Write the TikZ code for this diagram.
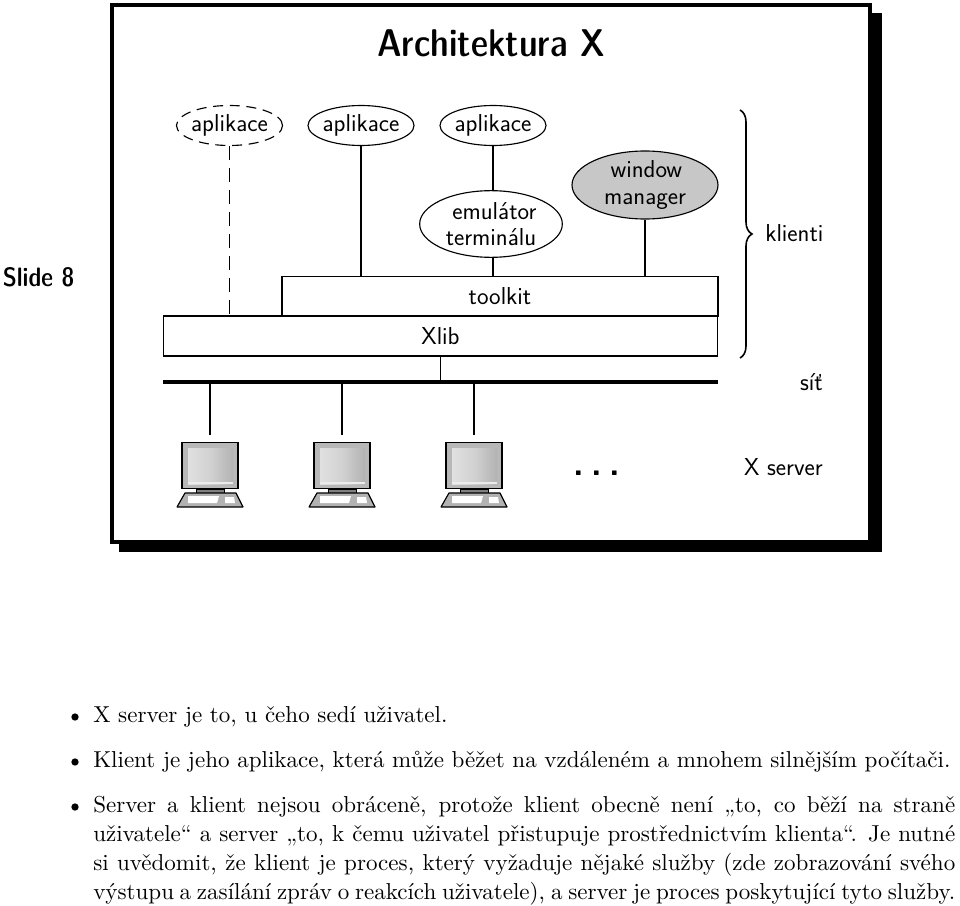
\documentclass[tikz,border=0pt]{standalone}
\usepackage{amsmath,amssymb,fontspec}
\usetikzlibrary{shapes.geometric,decorations.pathreplacing}
\newfontfamily\bodyfont{lmroman10-regular}[Extension=.otf]
\tikzset{
  appnode/.style={draw,ellipse,inner sep=-4pt,minimum width=79.5pt,minimum height=30pt,line width=.85pt},
  bignode/.style={draw,ellipse,inner sep=-4pt,minimum width=107pt,minimum height=50pt,align=center,line width=.85pt},
  layernode/.style={draw,rectangle,inner sep=0pt,line width=.85pt},
  linkline/.style={line width=.85pt},
  itemnode/.style={anchor=base west,inner sep=0pt,text width=646.5pt,align=justify,font=\fontsize{17.28}{21.75}\selectfont\bodyfont},
  bulletnode/.style={circle,fill=black,inner sep=0pt,minimum size=5.5pt},
  headnode/.style={font=\fontsize{#1}{30}\fontseries{sbc}\selectfont\sffamily},
  pc/.pic={
    \node[draw,rectangle,inner sep=0pt,minimum width=42pt,minimum height=35pt,fill=black!28,line width=.85pt] (-screen) at (0,-1.5) {};
    \shade[left color=black!12,right color=black!30,middle color=black!18] (-22,-19) rectangle (23,17);
    \fill[white!92!black] (-22,15) rectangle (23,17);
    \draw[fill=black!50,line width=.6pt] (-14,22) rectangle (14,26);
    \draw[fill=black!30,line width=.85pt,line join=round] (-25,26) -- (26,26) -- (33,40) -- (-33,40) -- cycle;
    \fill[white] (-22,29) -- (9,29) -- (7,36) -- (-22,36) -- cycle;
    \fill[white] (15,30) -- (24,30) -- (25,36) -- (15,36) -- cycle;
  }
}
\begin{document}
\begin{tikzpicture}[x=.75pt,y=-.75pt,every node/.style={font=\fontsize{18.4}{20}\selectfont\sffamily}]
\useasboundingbox (0,0) rectangle (960,906);
% frame
\fill (119,13) rectangle (882,552);
\draw[fill=white,line width=2.4pt] (112,5) rectangle (870,542);
\node[headnode=29] (title) at (491,43) {Architektura X};
\node[headnode=20] (slide) at (38.5,277) {Slide 8};
% clients
\node[appnode,dash pattern=on 7.5pt off 5pt] (app1) at (229.5,125.5) {aplikace};
\node[appnode] (app2) at (361,125.5) {aplikace};
\node[appnode] (app3) at (493,125.5) {aplikace};
\node[bignode] (term) at (491,224) {\hspace*{5pt}emulátor\\terminálu};
\node[bignode,minimum width=109.5pt,minimum height=51pt,fill=black!22] (wm) at (645,185) {\hspace*{2pt}window\\manager};
\node[layernode,minimum width=327pt,minimum height=30pt] (toolkit) at (500,296.5) {toolkit};
\node[layernode,minimum width=416pt,minimum height=30pt] (xlib) at (440.5,336) {Xlib};
\draw[linkline,dash pattern=on 10.5pt off 6pt] (app1.south) -- (app1.south |- xlib.north);
\draw[linkline] (app2.south) -- (app2.south |- toolkit.north);
\draw[linkline] (app3.south) -- (app3.south |- term.north);
\draw[linkline] (term.south -| app3.south) -- (app3.south |- toolkit.north);
\draw[linkline] (wm.south) -- (wm.south |- toolkit.north);
% network
\coordinate (busl) at (163,382);
\coordinate (busr) at (718,382);
\draw[line width=3pt] (busl) -- (busr);
\draw[linkline] (xlib.south) -- (xlib.south |- busl);
\pic (pca) at (210,467) {pc};
\pic (pcb) at (342,467) {pc};
\pic (pcc) at (474,467) {pc};
\foreach \i in {a,b,c} {
  \coordinate (top\i) at ([yshift=5.2pt]pc\i-screen.north);
  \draw[linkline] (top\i |- busl) -- (top\i);
}
\node[anchor=base,font=\fontsize{26}{30}\selectfont\sffamily\bfseries] (dots) at (597,475) {.\hspace{5.5pt}.\hspace{5.5pt}.};
\coordinate (bracea) at (740,110);
\coordinate (braceb) at (740,358);
\draw[decorate,decoration={brace,amplitude=9pt},line width=1.2pt] (bracea) -- (braceb);
\node[anchor=west,inner sep=0pt] (clients) at (765,233) {klienti};
\node[anchor=east,inner sep=0pt] (net) at (823,382) {síť};
\node[anchor=east,inner sep=0pt] (xserver) at (823,467) {X server};
% text
\node[itemnode] (ia) at (93,722) {X server je to, u čeho sedí uživatel.};
\node[itemnode] (ib) at (93,767) {Klient je jeho aplikace, která může běžet na vzdáleném a mnohem silnějším počítači.};
\node[itemnode] (ic) at (93,812) {Server a klient nejsou obráceně, protože klient obecně není „to, co běží na straně\linebreak uživatele“ a server „to, k čemu uživatel přistupuje prostřednictvím klienta“. Je nutné\linebreak si uvědomit, že klient je proces, který vyžaduje nějaké služby (zde zobrazování svého\linebreak výstupu a zasílání zpráv o reakcích uživatele), a server je proces poskytující tyto služby.};
\foreach \i/\y in {a/717,b/762,c/807}
  \node[bulletnode] (b\i) at (75,\y) {};
\end{tikzpicture}
\end{document}
